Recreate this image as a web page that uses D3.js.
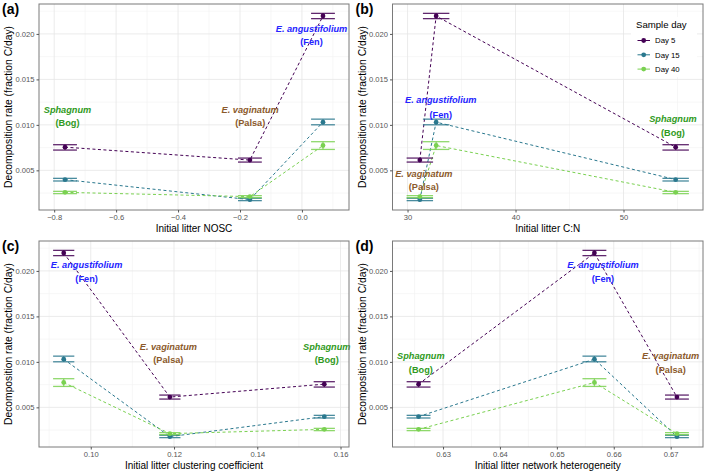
<!DOCTYPE html>
<html>
<head>
<meta charset="utf-8">
<script src="https://cdn.jsdelivr.net/npm/d3@7"></script>
<style>
  body { margin: 0; background: white; }
  svg { display: block; font-family: Arial, 'Liberation Sans', sans-serif; }
</style>
</head>
<body>
<div class="viz"></div>
<script>
'use strict'

const width = 709,
  height = 474;

// litters
const species = ['Sphagnum', 'E. vaginatum', 'E. angustifolium'];
const habitats = ['Bog', 'Palsa', 'Fen'];
const label_colors = ['#2f9a22', '#8b5a2b', '#2424ff'];

// sample days
const days = ['Day 5', 'Day 15', 'Day 40'];
const day_colors = ['#440154', '#2a788e', '#7ad151'];

// decomposition rate (fraction C/day), one value per species
const rate_day5 = [0.00755, 0.00613, 0.02197];
const rate_day15 = [0.00398, 0.00178, 0.01030];
const rate_day40 = [0.00258, 0.00211, 0.00773];
const lo_day5 = [0.00723, 0.00591, 0.02168];
const hi_day5 = [0.00782, 0.00635, 0.02226];
const lo_day15 = [0.00383, 0.00167, 0.01001];
const hi_day15 = [0.00412, 0.00193, 0.01063];
const lo_day40 = [0.00244, 0.00200, 0.00730];
const hi_day40 = [0.00269, 0.00222, 0.00815];

// litter traits, one value per species
const nosc = [-0.765, -0.168, 0.068];
const c_to_n = [54.83, 31.14, 32.65];
const clustering = [0.1561, 0.1190, 0.0935];
const heterogeneity = [0.6257, 0.6711, 0.6566];

// tick labels
const y_ticks = [0.005, 0.010, 0.015, 0.020];
const x_ticks_a = [-0.8, -0.6, -0.4, -0.2, 0.0];
const x_ticks_b = [30, 40, 50];
const x_ticks_c = [0.10, 0.12, 0.14, 0.16];
const x_ticks_d = [0.63, 0.64, 0.65, 0.66, 0.67];

// label anchors (data units): x, y of first line, y of second line
const labels_a = [[-0.757, 0.0117, 0.0102], [-0.167, 0.0117, 0.0102], [0.031, 0.0206, 0.0191]];
const labels_b = [[54.58, 0.01067, 0.00914], [31.51, 0.00464, 0.00317], [33.08, 0.01271, 0.01114]];
const labels_c = [[0.1567, 0.0117, 0.0102], [0.11864, 0.0117, 0.0102], [0.0990, 0.02066, 0.01912]];
const labels_d = [[0.6261, 0.01067, 0.00914], [0.6700, 0.01067, 0.00914], [0.6581, 0.02066, 0.01919]];

const rates = [rate_day5, rate_day15, rate_day40];
const lows = [lo_day5, lo_day15, lo_day40];
const highs = [hi_day5, hi_day15, hi_day40];

const panels = [
  {tag: '(a)', x: nosc, ticks: x_ticks_a, fmt: d3.format('.1f'), bar: 0.077,
    title: 'Initial litter NOSC', labels: labels_a, box: [39, 4, 349, 210]},
  {tag: '(b)', x: c_to_n, ticks: x_ticks_b, fmt: d3.format('d'), bar: 2.45,
    title: 'Initial litter C:N', labels: labels_b, box: [392.5, 4, 703, 210], legend: true},
  {tag: '(c)', x: clustering, ticks: x_ticks_c, fmt: d3.format('.2f'), bar: 0.0051,
    title: 'Initial litter clustering coefficient', labels: labels_c, box: [39, 241, 349, 447]},
  {tag: '(d)', x: heterogeneity, ticks: x_ticks_d, fmt: d3.format('.2f'), bar: 0.0042,
    title: 'Initial litter network heterogeneity', labels: labels_d, box: [392.5, 241, 703, 447]},
];

let svg = d3.select('.viz')
  .append('svg')
  .attr('width', width)
  .attr('height', height);

// ggplot-like 5% expansion
function expand(lo, hi) {
  const pad = (hi - lo) * 0.05;
  return [lo - pad, hi + pad];
}

const y_all = lows.flat().concat(highs.flat());
const y_domain = expand(d3.min(y_all), d3.max(y_all));

panels.forEach(draw_panel);

function draw_panel(p) {
  const [x0, y0, x1, y1] = p.box;
  const x_domain = expand(d3.min(p.x) - p.bar / 2, d3.max(p.x) + p.bar / 2);
  let x = d3.scaleLinear().domain(x_domain).range([x0, x1]);
  let y = d3.scaleLinear().domain(y_domain).range([y1, y0]);

  let g = svg.append('g');

  // grid
  const step_x = p.ticks[1] - p.ticks[0];
  const minor_x = d3.range(p.ticks[0] - step_x * 1.5, p.ticks[p.ticks.length - 1] + step_x * 2, step_x)
    .filter(v => v > x_domain[0] && v < x_domain[1]);
  const minor_y = d3.range(0.0025, 0.025, 0.005).filter(v => v > y_domain[0] && v < y_domain[1]);
  g.append('g')
    .attr('stroke', '#f2f2f2')
    .attr('stroke-width', 0.6)
    .call(s => s.selectAll('.mx').data(minor_x).join('line')
      .attr('x1', d => x(d)).attr('x2', d => x(d)).attr('y1', y0).attr('y2', y1))
    .call(s => s.selectAll('.my').data(minor_y).join('line')
      .attr('x1', x0).attr('x2', x1).attr('y1', d => y(d)).attr('y2', d => y(d)));
  g.append('g')
    .attr('stroke', '#e6e6e6')
    .attr('stroke-width', 0.8)
    .call(s => s.selectAll('.gx').data(p.ticks).join('line')
      .attr('x1', d => x(d)).attr('x2', d => x(d)).attr('y1', y0).attr('y2', y1))
    .call(s => s.selectAll('.gy').data(y_ticks).join('line')
      .attr('x1', x0).attr('x2', x1).attr('y1', d => y(d)).attr('y2', d => y(d)));

  // legend box knocks out the grid
  if (p.legend) {
    g.append('rect')
      .attr('x', 631).attr('y', 17).attr('width', 66).attr('height', 60)
      .attr('fill', 'white');
  }

  // dashed lines, sorted by x
  days.forEach((day, k) => {
    const pts = species.map((s, i) => [p.x[i], rates[k][i]]).sort((a, b) => a[0] - b[0]);
    g.append('path')
      .attr('d', d3.line().x(d => x(d[0])).y(d => y(d[1]))(pts))
      .attr('fill', 'none')
      .attr('stroke', day_colors[k])
      .attr('stroke-width', 1)
      .attr('stroke-dasharray', '3,2.5');
  });

  // error bars
  days.forEach((day, k) => {
    let eb = g.append('g')
      .attr('stroke', day_colors[k])
      .attr('stroke-width', 1.3)
      .attr('stroke-opacity', 0.85)
      .selectAll('g')
      .data(species.map((s, i) => i))
      .join('g');
    eb.append('line')
      .attr('x1', i => x(p.x[i] - p.bar / 2)).attr('x2', i => x(p.x[i] + p.bar / 2))
      .attr('y1', i => y(lows[k][i])).attr('y2', i => y(lows[k][i]));
    eb.append('line')
      .attr('x1', i => x(p.x[i] - p.bar / 2)).attr('x2', i => x(p.x[i] + p.bar / 2))
      .attr('y1', i => y(highs[k][i])).attr('y2', i => y(highs[k][i]));
    eb.append('line')
      .attr('x1', i => x(p.x[i])).attr('x2', i => x(p.x[i]))
      .attr('y1', i => y(lows[k][i])).attr('y2', i => y(highs[k][i]));
  });

  // points
  days.forEach((day, k) => {
    g.append('g')
      .attr('fill', day_colors[k])
      .selectAll('circle')
      .data(species.map((s, i) => i))
      .join('circle')
      .attr('cx', i => x(p.x[i]))
      .attr('cy', i => y(rates[k][i]))
      .attr('r', 2.4);
  });

  // species labels
  p.labels.forEach((l, i) => {
    g.append('text')
      .attr('x', x(l[0])).attr('y', y(l[1]))
      .attr('text-anchor', 'middle').attr('dy', '0.35em')
      .style('font-size', '9.2px').style('font-weight', 'bold').style('font-style', 'italic')
      .attr('fill', label_colors[i])
      .text(species[i]);
    g.append('text')
      .attr('x', x(l[0])).attr('y', y(l[2]))
      .attr('text-anchor', 'middle').attr('dy', '0.35em')
      .style('font-size', '9.2px').style('font-weight', 'bold')
      .attr('fill', label_colors[i])
      .text(`(${habitats[i]})`);
  });

  // border
  g.append('rect')
    .attr('x', x0).attr('y', y0).attr('width', x1 - x0).attr('height', y1 - y0)
    .attr('fill', 'none').attr('stroke', '#7a7a7a').attr('stroke-width', 1);

  // axes
  let ax = g.append('g')
    .attr('transform', `translate(0,${y1})`)
    .call(d3.axisBottom(x).tickValues(p.ticks).tickFormat(d => p.fmt(d).replace('-', '\u2212')).tickSize(2.5).tickPadding(2));
  let ay = g.append('g')
    .attr('transform', `translate(${x0},0)`)
    .call(d3.axisLeft(y).tickValues(y_ticks).tickFormat(d3.format('.3f')).tickSize(2.5).tickPadding(2));
  [ax, ay].forEach(a => {
    a.select('.domain').remove();
    a.selectAll('line').attr('stroke', '#555');
    a.selectAll('text').attr('fill', '#555').style('font-size', '7.6px').style('font-family', null);
  });

  g.append('text')
    .attr('x', (x0 + x1) / 2).attr('y', y1 + 18.5).attr('dy', '0.35em')
    .attr('text-anchor', 'middle')
    .style('font-size', '10px')
    .text(p.title);
  g.append('text')
    .attr('transform', `translate(${x0 - 30.5},${(y0 + y1) / 2}) rotate(-90)`)
    .attr('dy', '0.35em')
    .attr('text-anchor', 'middle')
    .style('font-size', '10.3px')
    .text('Decomposition rate (fraction C/day)');
  g.append('text')
    .attr('x', x0 - 37).attr('y', y0 + 10)
    .style('font-size', '14px').style('font-weight', 'bold')
    .text(p.tag);

  if (p.legend) draw_legend(g);
}

function draw_legend(g) {
  g.append('text')
    .attr('x', 636).attr('y', 25).attr('dy', '0.35em')
    .style('font-size', '9.6px')
    .text('Sample day');
  let item = g.selectAll('.item')
    .data(days)
    .join('g')
    .attr('transform', (d, i) => `translate(0,${40.5 + i * 14.3})`);
  item.append('line')
    .attr('x1', 637.5).attr('x2', 650)
    .attr('stroke', (d, i) => day_colors[i])
    .attr('stroke-width', 1);
  item.append('circle')
    .attr('cx', 643.7).attr('r', 2.4)
    .attr('fill', (d, i) => day_colors[i]);
  item.append('text')
    .attr('x', 655).attr('dy', '0.35em')
    .style('font-size', '7.8px')
    .text(d => d);
}
</script>
</body>
</html>
